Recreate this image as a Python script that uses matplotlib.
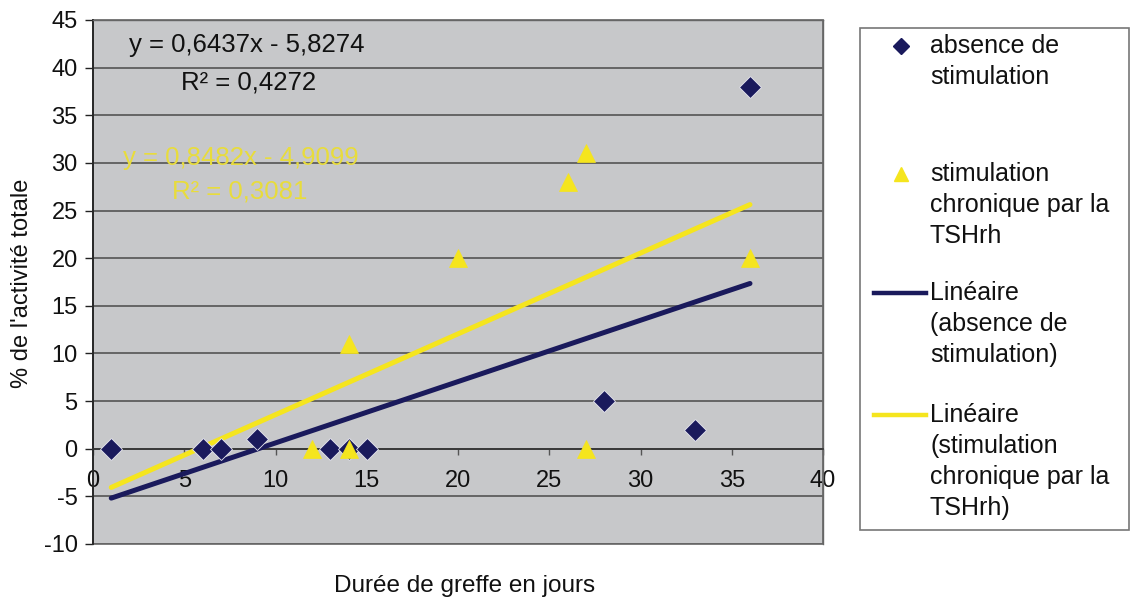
import numpy as np
import matplotlib
matplotlib.use("Agg")
import matplotlib.pyplot as plt
from matplotlib.lines import Line2D
from matplotlib.patches import Rectangle

plt.rcParams['font.family'] = ['Liberation Sans', 'DejaVu Sans']

# Data
x_absence = [1, 6, 7, 9, 13, 14, 15, 28, 33, 36]
y_absence = [0, 0, 0, 1, 0, 0, 0, 5, 2, 38]
x_stim = [12, 14, 14, 20, 26, 27, 27, 36]
y_stim = [0, 0, 11, 20, 28, 31, 0, 20]
trend_range = [1, 36]
xticks = [0, 5, 10, 15, 20, 25, 30, 35, 40]
yticks = [-10, -5, 0, 5, 10, 15, 20, 25, 30, 35, 40, 45]

navy = '#1a1a5c'
yellow = '#f5e51e'
bg = '#c7c8ca'

W, H = 1131, 602
fig = plt.figure(figsize=(W / 100, H / 100), dpi=100)
fig.patch.set_facecolor('white')
ax = fig.add_axes([93 / W, 1 - 544 / H, (823 - 93) / W, (544 - 20) / H])
ax.set_facecolor(bg)
ax.set_xlim(0, 40)
ax.set_ylim(-10, 45)

for yt in yticks:
    ax.axhline(yt, color='#4a4a4a', lw=1.1, zorder=1)

# Fits
a1, b1 = np.polyfit(x_absence, y_absence, 1)
a2, b2 = np.polyfit(x_stim, y_stim, 1)
r1 = np.corrcoef(x_absence, y_absence)[0, 1] ** 2
r2 = np.corrcoef(x_stim, y_stim)[0, 1] ** 2
xr = np.array(trend_range, dtype=float)

ax.plot(xr, a1 * xr + b1, color=navy, lw=3.6, zorder=3, solid_capstyle='round')
ax.plot(xr, a2 * xr + b2, color=yellow, lw=3.6, zorder=3, solid_capstyle='round')

ax.plot(x_absence, y_absence, 'D', color=navy, ms=11, mec='#e8e8f0', mew=0.6,
        ls='none', zorder=4)
ax.plot(x_stim, y_stim, '^', color=yellow, ms=13, mec=yellow, mew=0.5,
        ls='none', zorder=5)

def fmt(v):
    return f"{v:.4f}".replace('.', ',')

ax.text(8.45, 42.4, f"y = {fmt(a1)}x - {fmt(-b1)}", ha='center', va='center',
        fontsize=18.5, color='#111111', zorder=6)
ax.text(8.5, 38.4, f"R² = {fmt(r1)}", ha='center', va='center',
        fontsize=18.5, color='#111111', zorder=6)
ax.text(8.1, 30.5, f"y = {fmt(a2)}x - {fmt(-b2)}", ha='center', va='center',
        fontsize=18.5, color='#e8dc3c', zorder=6)
ax.text(8.05, 27.0, f"R² = {fmt(r2)}", ha='center', va='center',
        fontsize=18.5, color='#e8dc3c', zorder=6)

# Axes styling
for s in ['top', 'right']:
    ax.spines[s].set_color('#666666')
    ax.spines[s].set_linewidth(1.0)
ax.spines['left'].set_color('#222222')
ax.spines['left'].set_linewidth(1.3)
ax.spines['bottom'].set_position(('data', 0))
ax.spines['bottom'].set_color('#333333')
ax.spines['bottom'].set_linewidth(1.2)
ax.add_patch(Rectangle((0, 0), 1, 1, transform=ax.transAxes, fill=False,
                       ec='#666666', lw=1.2, zorder=2, clip_on=False))

ax.set_xticks(xticks)
ax.set_yticks(yticks)
ax.set_xticklabels([str(v) for v in xticks])
ax.set_yticklabels([str(v) for v in yticks])
ax.tick_params(axis='y', direction='out', length=6, width=1, colors='#222222',
               labelsize=17, pad=5, labelcolor='#111111')
ax.tick_params(axis='x', direction='out', length=4, width=1, colors='#555555',
               labelsize=17, pad=11, labelcolor='#111111')

fig.text(22 / W, 1 - 283 / H, "% de l'activité totale", rotation=90,
         ha='center', va='center', fontsize=17, color='#111111')
fig.text(465 / W, 1 - 586 / H, "Durée de greffe en jours",
         ha='center', va='center', fontsize=17.5, color='#111111')

# Legend (manual box)
fig.patches.append(Rectangle((860 / W, 1 - 530 / H), (1129 - 860) / W, (530 - 28) / H,
                             transform=fig.transFigure, fill=True, fc='white',
                             ec='#777777', lw=1.2))
entries = [
    (dict(marker='D', color=navy, ms=8, ls='none'), ["absence de", "stimulation"], 46, False),
    (dict(marker='^', color=yellow, ms=10, ls='none'), ["stimulation", "chronique par la", "TSHrh"], 174, False),
    (dict(color=navy, lw=3.2), ["Linéaire", "(absence de", "stimulation)"], 293, True),
    (dict(color=yellow, lw=3.2), ["Linéaire", "(stimulation", "chronique par la", "TSHrh)"], 415, True),
]
for style, lines, ytop, is_line in entries:
    yy = 1 - ytop / H
    if is_line:
        l = Line2D([874 / W, 926 / W], [yy, yy], transform=fig.transFigure, **style)
    else:
        l = Line2D([901 / W], [yy], transform=fig.transFigure, **style)
    fig.lines.append(l)
    for i, t in enumerate(lines):
        fig.text(930 / W, 1 - (ytop + i * 31) / H, t, ha='left', va='center',
                 fontsize=18, color='#111111')

fig.savefig('out.png', dpi=100, facecolor='white')
